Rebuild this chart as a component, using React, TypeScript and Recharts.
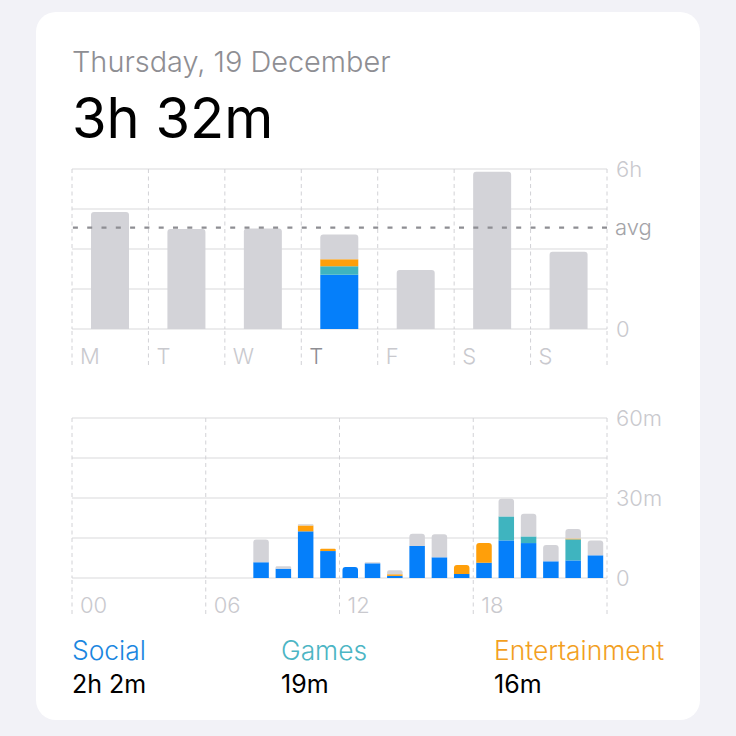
import { BarChart, Bar, XAxis, YAxis, CartesianGrid, ReferenceLine, Rectangle } from "recharts";

const FONT = "Inter, sans-serif";
const BLUE = "#057ffa";
const TEAL = "#3fb4bf";
const ORANGE = "#ff9f0a";
const GRAY = "#d3d3d8";
const GRID = "#d9d9dc";
const LABEL = "#c9c9ce";

const days = ["M", "T", "W", "T", "F", "S", "S"];
const dayIdle = [4.39, 3.75, 3.77, 0.92, 2.21, 5.9, 2.9];
const daySocial = [0, 0, 0, 2.03, 0, 0, 0];
const dayGames = [0, 0, 0, 0.32, 0, 0, 0];
const dayEnt = [0, 0, 0, 0.27, 0, 0, 0];
const dayAvg = 3.8;
const dayTicks = [0, 1.5, 3, 4.5, 6];
const dayTickLabels = ["0", "", "", "", "6h"];
const dayLines = [0, 1, 2, 3, 4, 5, 6, 7];

const hours = ["00","01","02","03","04","05","06","07","08","09","10","11","12","13","14","15","16","17","18","19","20","21","22","23"];
const hourSocial = [0,0,0,0,0,0,0,0,5.9,3.5,17.5,10.1,4.1,5.5,0.8,12,7.75,1.5,5.75,14.1,13.1,6.25,6.6,8.5];
const hourGames = [0,0,0,0,0,0,0,0,0,0,0,0,0,0,0,0,0,0,0,9,2.5,0,7.9,0];
const hourEnt = [0,0,0,0,0,0,0,0,0,0,2.2,0.9,0,0,0.6,0,0,3.4,7.35,0,0,0,0.3,0];
const hourOther = [0,0,0,0,0,0,0,0,8.5,0.9,0.5,0,0,0.4,1.5,4.6,8.65,0,0,6.65,8.5,6.15,3.6,5.6];
const hourTicks = [0, 15, 30, 45, 60];
const hourTickLabels = ["0", "", "30m", "", "60m"];
const hourLines = [0, 6, 12, 18, 24];
const hourLineLabels = ["00", "06", "12", "18", ""];

const dayData = days.map((d, i) => ({ slot: i, day: d, social: daySocial[i], games: dayGames[i], ent: dayEnt[i], other: dayIdle[i] }));
const hourData = hours.map((h, i) => ({ slot: i, hour: h, social: hourSocial[i], games: hourGames[i], ent: hourEnt[i], other: hourOther[i] }));

const stackOrder = ["social", "games", "ent", "other"];

// only the topmost non-empty segment of a stack gets the rounded corners
const segment = (key: string, r: number) => (props: any) => {
    const above = stackOrder.slice(stackOrder.indexOf(key) + 1);
    const isTop = above.every((k) => !props.payload[k]);
    if (!props.height) return <g />;
    return <Rectangle {...props} radius={isTop ? [r, r, 0, 0] : 0} />;
};

function Chart({ data, yMax, yTicks, yLabels, lines, lineLabels, xMax, barSize, radius, avg, highlight, labelOffset, tickDown }: any) {
    return (
        <BarChart width={736} height={220} data={data} margin={{ top: 19, right: 0, bottom: 5, left: 72 }} barCategoryGap={0}>
            <CartesianGrid xAxisId="lines" vertical={false} stroke={GRID} strokeWidth={1.2} />
            <CartesianGrid xAxisId="lines" horizontal={false} stroke="#d2d2d6" strokeWidth={1} strokeDasharray="4 3.5" />
            <XAxis xAxisId="slots" dataKey="slot" type="category" hide />
            <XAxis
                xAxisId="lines"
                dataKey="slot"
                type="number"
                domain={[0, xMax]}
                allowDataOverflow
                ticks={lines}
                interval={0}
                height={tickDown}
                axisLine={false}
                tickSize={tickDown}
                tickLine={{ stroke: "#d2d2d6", strokeDasharray: "4 3.5" }}
                tick={(p: any) => (
                    <text
                        x={p.x + labelOffset}
                        y={p.y - 3}
                        fontSize={22}
                        fontFamily={FONT}
                        fontWeight={300}
                        fill={highlight === p.index ? "#8e8e93" : LABEL}
                    >
                        {lineLabels[p.index]}
                    </text>
                )}
            />
            <YAxis
                orientation="right"
                width={129}
                domain={[0, yMax]}
                ticks={yTicks}
                interval={0}
                axisLine={false}
                tickLine={false}
                tickMargin={3}
                tick={{ fill: LABEL, fontSize: 22, fontFamily: FONT, fontWeight: 300 }}
                tickFormatter={(v: number) => yLabels[yTicks.indexOf(v)]}
            />
            <Bar xAxisId="slots" dataKey="social" stackId="a" fill={BLUE} barSize={barSize} isAnimationActive={false} shape={segment("social", radius)} />
            <Bar xAxisId="slots" dataKey="games" stackId="a" fill={TEAL} barSize={barSize} isAnimationActive={false} shape={segment("games", radius)} />
            <Bar xAxisId="slots" dataKey="ent" stackId="a" fill={ORANGE} barSize={barSize} isAnimationActive={false} shape={segment("ent", radius)} />
            <Bar xAxisId="slots" dataKey="other" stackId="a" fill={GRAY} barSize={barSize} isAnimationActive={false} shape={segment("other", radius)} />
            {avg !== undefined && (
                <ReferenceLine
                    xAxisId="lines"
                    y={avg}
                    stroke="#8e8e93"
                    strokeWidth={2.2}
                    strokeDasharray="5 9.3"
                    label={{ value: "avg", position: "right", dx: 3, fill: "#a3a3a8", fontSize: 22, fontFamily: FONT, fontWeight: 300 }}
                />
            )}
        </BarChart>
    );
}

const summary = [
    { name: "Social", value: "2h 2m", color: "#1a86e0", left: 72 },
    { name: "Games", value: "19m", color: "#4cb5c4", left: 281 },
    { name: "Entertainment", value: "16m", color: "#f2a01e", left: 494 },
];

const abs = (left: number, top: number, style: any) => ({ position: "absolute" as const, left, top, whiteSpace: "nowrap" as const, fontFamily: FONT, lineHeight: 1, ...style });

export default function App() {
    return (
        <div style={{ position: "absolute", left: 0, top: 0, width: 736, height: 736, background: "#f2f2f7", overflow: "hidden" }}>
            <div style={{ position: "absolute", left: 36, top: 12, width: 664, height: 708, background: "#fff", borderRadius: 20 }} />
            <div style={abs(72, 48, { fontSize: 28.9, color: "#8e8e93", fontWeight: 300 })}>Thursday, 19 December</div>
            <div style={abs(72, 90, { fontSize: 56, color: "#000", fontWeight: 400 })}>3h 32m</div>
            <div style={{ position: "absolute", left: 0, top: 150 }}>
                <Chart data={dayData} yMax={6} yTicks={dayTicks} yLabels={dayTickLabels} lines={dayLines} lineLabels={days} xMax={7} barSize={38} radius={3} avg={dayAvg} highlight={3} labelOffset={8} tickDown={36} />
            </div>
            <div style={{ position: "absolute", left: 0, top: 399 }}>
                <Chart data={hourData} yMax={60} yTicks={hourTicks} yLabels={hourTickLabels} lines={hourLines} lineLabels={hourLineLabels} xMax={24} barSize={15.5} radius={3} labelOffset={8} tickDown={36} />
            </div>
            {summary.map((s) => (
                <div key={s.name}>
                    <div style={abs(s.left, 637, { fontSize: 26.4, color: s.color, fontWeight: 300 })}>{s.name}</div>
                    <div style={abs(s.left, 672, { fontSize: 25, color: "#000" })}>{s.value}</div>
                </div>
            ))}
        </div>
    );
}
